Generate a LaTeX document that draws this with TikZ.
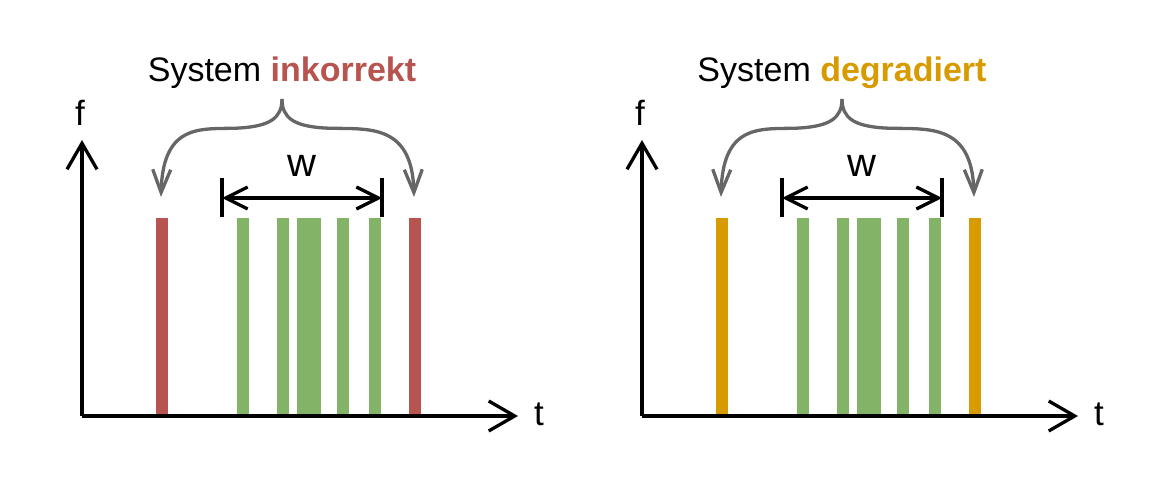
\documentclass[tikz,border=0pt]{standalone}
\usepackage{fontspec}
\setmainfont{Liberation Sans}
\usetikzlibrary{arrows.meta,positioning,calc}
\definecolor{BarRed}{HTML}{B85450}
\definecolor{BarGreen}{HTML}{82B366}
\definecolor{BarOrange}{HTML}{D79B00}
\definecolor{BraceGrey}{HTML}{666666}
\tikzset{
  axisline/.style={line width=3.3pt,-{Straight Barb[length=26pt,width=30pt]}},
  widthline/.style={line width=3.3pt,{Straight Barb[length=22pt,width=22pt]}-{Straight Barb[length=22pt,width=22pt]}},
  tickline/.style={line width=3.3pt},
  bracearrow/.style={BraceGrey,line width=3.3pt,-{Straight Barb[length=23pt,width=18pt]}},
  axislabel/.style={font=\fontsize{35}{40}\selectfont,inner sep=0pt},
  titlelabel/.style={font=\fontsize{34}{40}\selectfont,inner sep=0pt}}

\begin{document}
\begin{tikzpicture}[x=1pt,y=-1pt]
  \useasboundingbox (0,0) rectangle (1164,500);
  \foreach \p/\dx/\col/\word in {L/0/BarRed/inkorrekt,R/560/BarOrange/degradiert}{
    \begin{scope}[xshift=\dx pt]
      % bars
      \fill[\col] (156,218) rectangle ++(12,198);
      \fill[\col] (408.5,218) rectangle ++(12,198);
      \foreach \bx in {236.5,276.5,296.5,308.5,336.5,368.5}
        \fill[BarGreen] (\bx,218) rectangle ++(12,198);
      % axes
      \coordinate (O\p) at (82,416);
      \coordinate (Y\p) at (82,140);
      \coordinate (X\p) at (518,416);
      \draw[axisline] (O\p) -- (Y\p);
      \draw[axisline] (O\p) -- (X\p);
      \node[axislabel] (f\p) at (80,113) {f};
      \node[axislabel] (t\p) at (539,414) {t};
      % window w
      \coordinate (wa\p) at (222,198);
      \coordinate (wb\p) at (382,198);
      \draw[tickline] (222,178) -- (222,217);
      \draw[tickline] (382,178) -- (382,217);
      \draw[widthline] (wa\p) -- (wb\p);
      \node[font=\fontsize{40}{44}\selectfont,inner sep=0pt] (w\p) at (302,166) {w};
      % brace
      \node[titlelabel] (title\p) at (282,73) {System \textbf{\color{\col}\word}};
      \coordinate (top\p) at (282,99);
      \coordinate (bl\p) at (161,197);
      \coordinate (br\p) at (414,197);
      \draw[bracearrow] (top\p) .. controls (282,118) and (270,126) .. (240,128)
        .. controls (205,130) and (163,120) .. (bl\p);
      \draw[bracearrow] (top\p) .. controls (282,118) and (294,126) .. (324,128)
        .. controls (364,130) and (412,120) .. (br\p);
    \end{scope}
  }
\end{tikzpicture}
\end{document}
